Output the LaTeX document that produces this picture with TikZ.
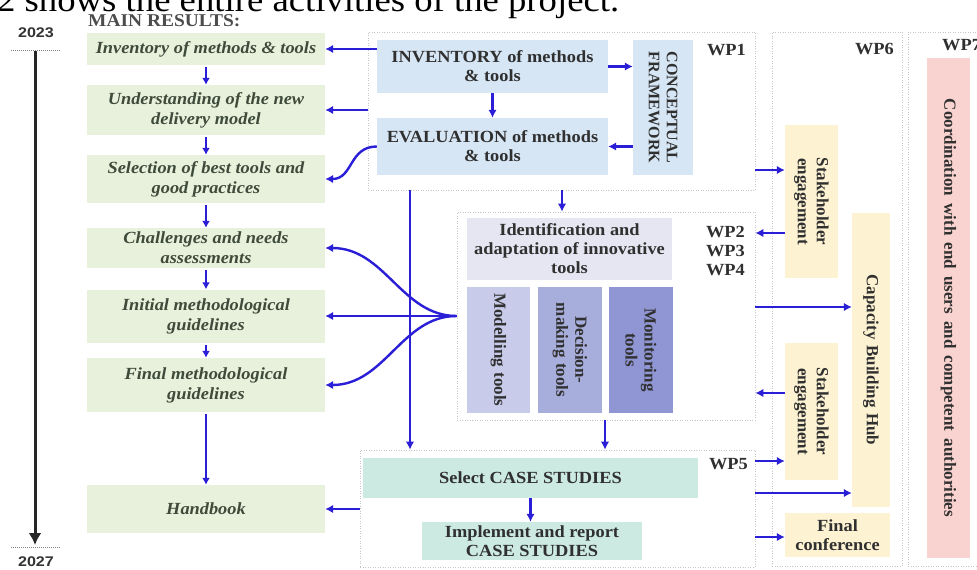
\documentclass[tikz,border=0pt]{standalone}
\usepackage{fontspec}
\setmainfont{Liberation Serif}[FakeStretch=1.08]
\newfontfamily\rotfont{Liberation Serif}
\newfontfamily\cofont{Liberation Serif}[WordSpace=1.3]
\newfontfamily\yearfont{Liberation Sans}[FakeStretch=1.15]
\usetikzlibrary{arrows.meta,calc}

\definecolor{greenbox}{RGB}{232,241,220}
\definecolor{bluebox}{RGB}{214,230,245}
\definecolor{lavbox}{RGB}{230,230,242}
\definecolor{modbox}{RGB}{200,204,234}
\definecolor{decbox}{RGB}{168,174,220}
\definecolor{monbox}{RGB}{144,150,212}
\definecolor{tealbox}{RGB}{204,234,226}
\definecolor{yelbox}{RGB}{253,242,210}
\definecolor{pinkbox}{RGB}{249,211,207}
\definecolor{arrblue}{RGB}{42,30,214}
\definecolor{lefttext}{RGB}{62,74,58}
\definecolor{righttext}{RGB}{48,48,48}

\tikzset{
 res/.style={fill=greenbox, text=lefttext, font=\fontsize{17}{20}\selectfont\bfseries\itshape, align=center, inner sep=0pt, minimum width=238pt},
 box/.style={text=righttext, font=\fontsize{17}{19}\selectfont\bfseries, align=center, inner sep=0pt},
 fbox/.style={inner sep=0pt},
 rtext/.style={text=righttext, font=\fontsize{17}{19}\rotfont\bfseries, align=center, inner sep=0pt, rotate=-90},
 wp/.style={draw=gray!45, dash pattern=on 1pt off 1.5pt, line width=0.8pt, inner sep=0pt},
 wplab/.style={text=righttext, font=\fontsize{17}{19}\selectfont\bfseries, inner sep=0pt},
 arr/.style={draw=arrblue, line width=2.4pt, -{Latex[length=8pt,width=8.5pt]}},
 tick/.style={draw=gray, dash pattern=on 1pt off 1pt, line width=1pt},
}

\begin{document}
\begin{tikzpicture}[x=1pt,y=-1pt]
\useasboundingbox (0,0) rectangle (977,570);
\clip (0,0) rectangle (977,570);
\fill[white] (0,0) rectangle (977,570);

% header line (cut off by the top edge)
\node[anchor=base west, inner sep=0pt, font=\fontsize{34}{36}\selectfont] (hdr) at (-3,12) {2 shows the entire activities of the project.};

\node[anchor=base west, inner sep=0pt, text=black!70, font=\fontsize{18}{20}\selectfont\bfseries] (mr) at (88,27) {MAIN RESULTS:};

% timeline
\node[inner sep=0pt, text=black!80, font=\fontsize{14}{14}\yearfont\bfseries] (y23) at (36,33) {2023};
\node[inner sep=0pt, text=black!80, font=\fontsize{14}{14}\yearfont\bfseries] (y27) at (36,562) {2027};
\coordinate (tl1) at (11,50); \coordinate (tr1) at (60,50);
\coordinate (tl2) at (11,547); \coordinate (tr2) at (60,547);
\draw[tick] (tl1) -- (tr1);
\draw[tick] (tl2) -- (tr2);
\coordinate (tTop) at (35,51);
\coordinate (tBot) at (35,545);
\draw[line width=3pt, black!85, -{Latex[length=12pt,width=13pt]}] (tTop) -- (tBot);

% main results
\node[res, minimum height=32pt] (L1) at (206,49) {Inventory of methods \& tools};
\node[res, minimum height=50pt] (L2) at (206,110) {Understanding of the new\\delivery model};
\node[res, minimum height=48pt] (L3) at (206,179) {Selection of best tools and\\good practices};
\node[res, minimum height=40pt] (L4) at (206,248) {Challenges and needs\\assessments};
\node[res, minimum height=53pt] (L5) at (206,316) {Initial methodological\\guidelines};
\node[res, minimum height=54pt] (L6) at (206,385) {Final methodological\\guidelines};
\node[res, minimum height=48pt] (L7) at (206,509) {Handbook};

\foreach \a/\b in {L1/L2,L2/L3,L3/L4,L4/L5,L5/L6,L6/L7}
  \draw[arr, line width=2pt, shorten <=2pt, -{Latex[length=7pt,width=8pt]}] (\a.south) -- (\b.north);

% WP1
\node[wp, minimum width=387pt, minimum height=158pt] (wp1) at (561.5,111) {};
\node[wplab, anchor=base east] (wp1l) at (746,55) {WP1};
\node[box, fill=bluebox, minimum width=231pt, minimum height=53pt] (INV) at (492.5,66.5) {INVENTORY of methods\\\& tools};
\node[box, fill=bluebox, minimum width=231pt, minimum height=57pt] (EVAL) at (492.5,146.5) {EVALUATION of methods\\\& tools};
\node[fbox, fill=bluebox, minimum width=60pt, minimum height=135pt] (CF) at (663,107.5) {};
\node[rtext, font=\fontsize{16}{18}\rotfont\bfseries] (CFt) at (CF) {CONCEPTUAL\\FRAMEWORK};

% WP2-4
\node[wp, minimum width=298pt, minimum height=208pt] (wp24) at (606,316) {};
\node[wplab, anchor=base east] (wp2l) at (745,237) {WP2};
\node[wplab, anchor=base east] (wp3l) at (745,256) {WP3};
\node[wplab, anchor=base east] (wp4l) at (745,275) {WP4};
\node[box, fill=lavbox, minimum width=205pt, minimum height=62pt] (IDA) at (569.5,249) {Identification and\\adaptation of innovative\\tools};
\node[fbox, fill=modbox, minimum width=63pt, minimum height=126pt] (MOD) at (498.5,350) {};
\node[rtext] (MODt) at (MOD) {Modelling tools};
\node[fbox, fill=decbox, minimum width=64pt, minimum height=126pt] (DEC) at (570,350) {};
\node[rtext] (DECt) at (DEC) {Decision-\\making tools};
\node[fbox, fill=monbox, minimum width=64pt, minimum height=126pt] (MON) at (641,350) {};
\node[rtext] (MONt) at (MON) {Monitoring\\tools};

% WP5
\node[wp, minimum width=395pt, minimum height=117pt] (wp5) at (557.5,508.5) {};
\node[wplab, anchor=base east] (wp5l) at (748,469) {WP5};
\node[box, fill=tealbox, minimum width=335pt, minimum height=40pt] (SEL) at (530.5,478) {Select CASE STUDIES};
\node[box, fill=tealbox, minimum width=220pt, minimum height=38pt] (IMP) at (532,541) {Implement and report\\CASE STUDIES};

% WP6
\node[wp, minimum width=130pt, minimum height=534pt] (wp6) at (837,299) {};
\node[wplab, anchor=base east] (wp6l) at (894,54) {WP6};
\node[fbox, fill=yelbox, minimum width=53pt, minimum height=153pt] (SE1) at (811.5,201.5) {};
\node[rtext] (SE1t) at (SE1) {Stakeholder\\engagement};
\node[fbox, fill=yelbox, minimum width=38pt, minimum height=294pt] (CBH) at (871,360) {};
\node[rtext] (CBHt) at (CBH) {Capacity Building Hub};
\node[fbox, fill=yelbox, minimum width=53pt, minimum height=137pt] (SE2) at (811.5,411.5) {};
\node[rtext] (SE2t) at (SE2) {Stakeholder\\engagement};
\node[box, fill=yelbox, minimum width=105pt, minimum height=44pt] (FC) at (837.5,535) {Final\\conference};

% WP7
\node[wp, minimum width=87pt, minimum height=534pt] (wp7) at (951.5,299) {};
\node[wplab, anchor=base west] (wp7l) at (942,50) {WP7};
\node[fbox, fill=pinkbox, minimum width=43pt, minimum height=500pt] (CO) at (948.5,308) {};
\node[rtext, font=\fontsize{17}{19}\cofont\bfseries] (COt) at (CO) {Coordination with end users and competent authorities};

% connectors inside WP1
\draw[arr] (INV.south) -- (EVAL.north);
\draw[arr] (INV.east) -- (INV.east -| CF.west);
\draw[arr] (CF.west |- EVAL.east) -- (EVAL.east);
\draw[arr] (SEL.south) -- (SEL.south |- IMP.north);

% connectors to main results
\draw[arr] (INV.west |- L1.east) -- (L1.east);
\draw[arr] (wp1.west |- L2.east) -- (L2.east);
\draw[arr] (EVAL.west) .. controls +(-28,0) and +(28,0) .. (L3.east);
\draw[arr] (wp24.west) .. controls +(-55,0) and +(60,0) .. (L4.east);
\draw[arr] (wp24.west) -- (L5.east);
\draw[arr] (wp24.west) .. controls +(-55,0) and +(60,0) .. (L6.east);
\draw[arr] (wp5.west |- L7.east) -- (L7.east);

% vertical flows
\coordinate (xa) at (410,0);
\coordinate (xb) at (562,0);
\coordinate (xc) at (605,0);
\draw[arr] (wp1.south -| xa) -- (wp5.north -| xa);
\draw[arr] (wp1.south -| xb) -- (wp24.north -| xb);
\draw[arr] (wp24.south -| xc) -- (wp5.north -| xc);

% links with WP6
\coordinate (ya) at (0,170);
\coordinate (yb) at (0,233);
\coordinate (yc) at (0,307);
\coordinate (yd) at (0,393);
\coordinate (ye) at (0,461);
\coordinate (yf) at (0,493);
\coordinate (yg) at (0,537);
\draw[arr] (wp1.east |- ya) -- (SE1.west |- ya);
\draw[arr] (SE1.west |- yb) -- (wp24.east |- yb);
\draw[arr] (wp24.east |- yc) -- (CBH.west |- yc);
\draw[arr] (SE2.west |- yd) -- (wp24.east |- yd);
\draw[arr] (wp5.east |- ye) -- (SE2.west |- ye);
\draw[arr] (wp5.east |- yf) -- (CBH.west |- yf);
\draw[arr] (wp5.east |- yg) -- (FC.west |- yg);
\end{tikzpicture}
\end{document}
